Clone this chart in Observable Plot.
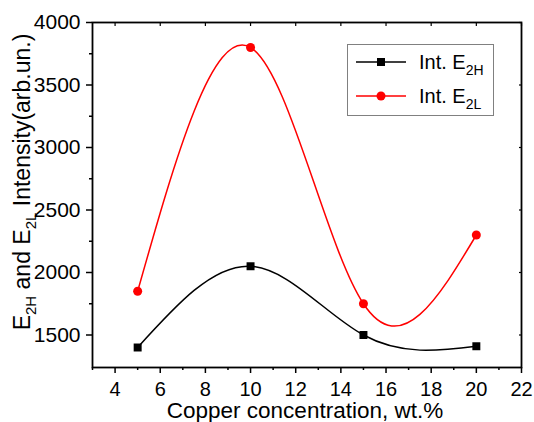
<!DOCTYPE html>
<html>
<head>
<meta charset="utf-8">
<script src="https://cdn.jsdelivr.net/npm/d3@7"></script>
<script src="https://cdn.jsdelivr.net/npm/@observablehq/plot@0.6"></script>
<style>
  html, body { margin: 0; padding: 0; background: white; overflow: hidden; }
</style>
</head>
<body>
<div id="chart"></div>
<script>
const copper = [5, 10, 15, 20];
const intE2H = [1400, 2050, 1500, 1410];
const intE2L = [1850, 3800, 1750, 2300];
const xTicks = [4, 6, 8, 10, 12, 14, 16, 18, 20, 22];
const xMinorTicks = [3, 5, 7, 9, 11, 13, 15, 17, 19, 21];
const yTicks = [1500, 2000, 2500, 3000, 3500, 4000];
const yMinorTicks = [1750, 2250, 2750, 3250, 3750];
const seriesNames = ["Int. E", "Int. E"];
const seriesSubs = ["2H", "2L"];
const seriesColors = ["black", "red"];

const dataH = copper.map((c, i) => ({x: c, y: intE2H[i]}));
const dataL = copper.map((c, i) => ({x: c, y: intE2L[i]}));

const font = "'Liberation Sans', Arial, sans-serif";

const svg = Plot.plot({
  width: 534,
  height: 422,
  marginLeft: 92,
  marginRight: 13,
  marginTop: 22,
  marginBottom: 55,
  x: {domain: [3, 22]},
  y: {domain: [1240, 4000]},
  style: {fontFamily: font, background: "white", color: "black"},
  marks: [
    Plot.axisX(xTicks, {tickSize: 6, tickPadding: 8, tickFormat: "d", label: null, strokeWidth: 1.5, fontSize: 20}),
    Plot.axisX(xMinorTicks, {tickSize: 3, tickFormat: () => "", label: null, strokeWidth: 1.5}),
    Plot.axisX(xTicks, {anchor: "top", tickSize: -3, tickFormat: () => "", label: null, strokeWidth: 1.2}),
    Plot.axisY(yTicks, {tickSize: 6, tickPadding: 6, tickFormat: "d", label: null, strokeWidth: 1.5, fontSize: 21}),
    Plot.axisY(yMinorTicks, {tickSize: 3, tickFormat: () => "", label: null, strokeWidth: 1.5}),
    Plot.axisY(yTicks, {anchor: "right", tickSize: -3, tickFormat: () => "", label: null, strokeWidth: 1.2}),
    Plot.frame({stroke: "black", strokeWidth: 1.8}),
    Plot.line(dataH, {x: "x", y: "y", curve: "natural", stroke: seriesColors[0], strokeWidth: 1.5}),
    Plot.line(dataL, {x: "x", y: "y", curve: "natural", stroke: seriesColors[1], strokeWidth: 1.5}),
    Plot.dot(dataH, {x: "x", y: "y", symbol: "square", r: 4.5, fill: seriesColors[0], stroke: "none"}),
    Plot.dot(dataL, {x: "x", y: "y", symbol: "circle", r: 4.5, fill: seriesColors[1], stroke: "none"})
  ]
});

const s = d3.select(svg);

// Tick label sizes (ensure applied)
s.selectAll("g[aria-label='x-axis tick label']").each(function() {
  d3.select(this).attr("font-size", 20).attr("fill", "black");
  d3.select(this).selectAll("text").attr("font-size", 20);
});
s.selectAll("g[aria-label='y-axis tick label']").each(function() {
  d3.select(this).attr("font-size", 21).attr("fill", "black");
  d3.select(this).selectAll("text").attr("font-size", 21);
});

// X axis title
s.append("text")
  .attr("x", 305)
  .attr("y", 418)
  .attr("text-anchor", "middle")
  .attr("font-family", font)
  .attr("font-size", 22.5)
  .attr("fill", "black")
  .text("Copper concentration, wt.%");

// Y axis title with subscripts
const yt = s.append("text")
  .attr("transform", "translate(30,182) rotate(-90)")
  .attr("text-anchor", "middle")
  .attr("font-family", font)
  .attr("font-size", 23)
  .attr("fill", "black");
yt.append("tspan").text("E");
yt.append("tspan").attr("font-size", 15).attr("dy", 6).text("2H");
yt.append("tspan").attr("dy", -6).text(" and E");
yt.append("tspan").attr("font-size", 15).attr("dy", 6).text("2L");
yt.append("tspan").attr("dy", -6).text(" Intensity(arb.un.)");

// Legend
const lg = s.append("g");
lg.append("rect")
  .attr("x", 347.5).attr("y", 44.5).attr("width", 146).attr("height", 71)
  .attr("fill", "white").attr("stroke", "#808080").attr("stroke-width", 1);
[62, 96].forEach((ly, i) => {
  lg.append("line")
    .attr("x1", 356).attr("x2", 406).attr("y1", ly).attr("y2", ly)
    .attr("stroke", seriesColors[i]).attr("stroke-width", 1.5);
  if (i === 0) {
    lg.append("rect").attr("x", 377).attr("y", ly - 4).attr("width", 8).attr("height", 8)
      .attr("fill", seriesColors[i]);
  } else {
    lg.append("circle").attr("cx", 381).attr("cy", ly).attr("r", 4.5)
      .attr("fill", seriesColors[i]);
  }
  const t = lg.append("text")
    .attr("x", 419).attr("y", ly + 7)
    .attr("text-anchor", "start")
    .attr("font-family", font).attr("font-size", 20).attr("fill", "black");
  t.append("tspan").text(seriesNames[i]);
  t.append("tspan").attr("font-size", 14).attr("dy", 6).text(seriesSubs[i]);
});

document.getElementById("chart").appendChild(svg);
</script>
</body>
</html>
